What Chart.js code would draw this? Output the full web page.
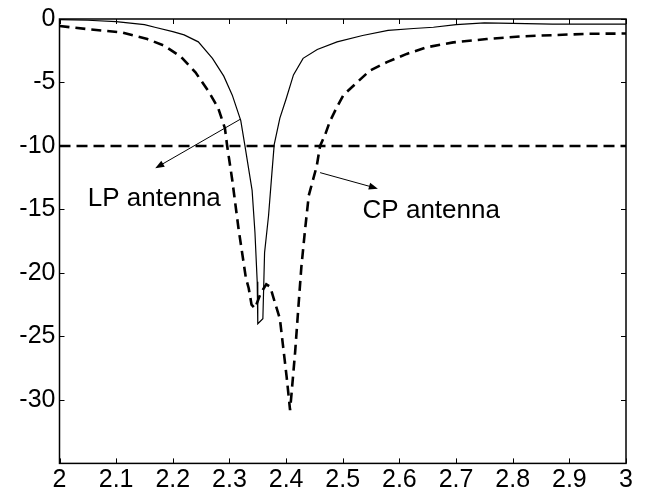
<!DOCTYPE html>
<html>
<head>
<meta charset="utf-8">
<script src="https://cdn.jsdelivr.net/npm/chart.js@4/dist/chart.umd.min.js"></script>
<style>
  html, body { margin: 0; padding: 0; background: #fff; }
  #wrap { width: 651px; height: 492px; }
</style>
</head>
<body>
<div id="wrap"><canvas id="chart"></canvas></div>
<script>
// frequency (GHz) and return loss (dB) of the linearly polarised antenna
const lpFreq = [2.00, 2.05, 2.10, 2.15, 2.17, 2.20, 2.22, 2.245, 2.27, 2.29, 2.305, 2.32, 2.327,
  2.34, 2.345, 2.349, 2.350, 2.359, 2.362, 2.369, 2.375, 2.379, 2.389, 2.40, 2.413, 2.43,
  2.455, 2.49, 2.535, 2.58, 2.625, 2.66, 2.70, 2.75, 2.80, 2.87, 2.93, 3.00];
const lpS11 = [-0.05, -0.1, -0.2, -0.45, -0.67, -1.0, -1.25, -1.8, -3.1, -4.5, -6.0, -8.0, -9.9,
  -13.5, -16.8, -20.7, -24.0, -23.6, -18.4, -15.5, -12.1, -9.9, -7.8, -6.3, -4.4, -3.1,
  -2.4, -1.8, -1.3, -0.9, -0.75, -0.65, -0.45, -0.3, -0.35, -0.4, -0.4, -0.4];

// same for the circularly polarised antenna
const cpFreq = [2.00, 2.05, 2.11, 2.155, 2.185, 2.215, 2.24, 2.263, 2.28, 2.292, 2.296, 2.305,
  2.316, 2.329, 2.334, 2.339, 2.345, 2.355, 2.365, 2.372, 2.38, 2.389, 2.395, 2.401, 2.407,
  2.41, 2.416, 2.422, 2.427, 2.433, 2.44, 2.454, 2.46, 2.469, 2.477, 2.489, 2.501, 2.525,
  2.548, 2.578, 2.613, 2.648, 2.695, 2.754, 2.813, 2.871, 2.93, 3.00];
const cpS11 = [-0.55, -0.8, -1.06, -1.58, -2.1, -3.0, -4.2, -5.7, -7.0, -8.6, -10.0, -12.7,
  -16.5, -20.4, -21.2, -22.5, -22.8, -21.6, -20.9, -21.1, -22.3, -23.6, -25.9, -28.2, -30.8,
  -29.3, -26.2, -22.5, -19.5, -16.8, -13.9, -11.6, -10.0, -9.1, -8.1, -7.0, -6.0, -5.0,
  -4.06, -3.4, -2.75, -2.23, -1.84, -1.58, -1.37, -1.27, -1.17, -1.14];

// -10 dB reference level
const refFreq = [2, 3];
const refS11 = [-10, -10];

const xTickLabels = ["2", "2.1", "2.2", "2.3", "2.4", "2.5", "2.6", "2.7", "2.8", "2.9", "3"];
const yTickLabels = ["0", "-5", "-10", "-15", "-20", "-25", "-30"];

function toPoints(xs, ys) {
  return xs.map((v, i) => ({ x: v, y: ys[i] }));
}

const FONT = "Liberation Sans, Arial, sans-serif";

function drawArrow(ctx, x0, y0, x1, y1) {
  const ang = Math.atan2(y1 - y0, x1 - x0);
  const len = 9, half = 3.5;
  ctx.beginPath();
  ctx.moveTo(x0, y0);
  ctx.lineTo(x1 - Math.cos(ang) * len * 0.8, y1 - Math.sin(ang) * len * 0.8);
  ctx.stroke();
  ctx.beginPath();
  ctx.moveTo(x1, y1);
  ctx.lineTo(x1 - Math.cos(ang) * len - Math.sin(ang) * half, y1 - Math.sin(ang) * len + Math.cos(ang) * half);
  ctx.lineTo(x1 - Math.cos(ang) * len + Math.sin(ang) * half, y1 - Math.sin(ang) * len - Math.cos(ang) * half);
  ctx.closePath();
  ctx.fill();
}

// box, inward ticks on all four sides, and the two labelled arrows
const framePlugin = {
  id: "frame",
  afterDraw(chart) {
    const { ctx, chartArea: a, scales: { x, y } } = chart;
    ctx.save();
    ctx.strokeStyle = "#000";
    ctx.fillStyle = "#000";
    ctx.lineWidth = 1.5;
    ctx.strokeRect(a.left, a.top, a.right - a.left, a.bottom - a.top);

    ctx.lineWidth = 1;
    ctx.beginPath();
    x.ticks.forEach(t => {
      const px = Math.round(x.getPixelForValue(t.value)) + 0.5;
      ctx.moveTo(px, a.bottom); ctx.lineTo(px, a.bottom - 5);
      ctx.moveTo(px, a.top); ctx.lineTo(px, a.top + 5);
    });
    y.ticks.forEach(t => {
      const py = Math.round(y.getPixelForValue(t.value)) + 0.5;
      ctx.moveTo(a.left, py); ctx.lineTo(a.left + 5, py);
      ctx.moveTo(a.right, py); ctx.lineTo(a.right - 5, py);
    });
    ctx.stroke();

    // LP antenna
    drawArrow(ctx, x.getPixelForValue(2.319), y.getPixelForValue(-7.9),
      x.getPixelForValue(2.169), y.getPixelForValue(-11.75));
    // CP antenna
    drawArrow(ctx, x.getPixelForValue(2.46), y.getPixelForValue(-12.1),
      x.getPixelForValue(2.562), y.getPixelForValue(-13.36));

    ctx.font = "26px " + FONT;
    ctx.textAlign = "left";
    ctx.textBaseline = "middle";
    ctx.fillText("LP antenna", x.getPixelForValue(2.05), y.getPixelForValue(-14.2));
    ctx.fillText("CP antenna", x.getPixelForValue(2.535), y.getPixelForValue(-15.1));
    ctx.restore();
  }
};

const ctx = document.getElementById("chart").getContext("2d");
new Chart(ctx, {
  type: "line",
  data: {
    datasets: [
      {
        label: "LP antenna",
        data: toPoints(lpFreq, lpS11),
        borderColor: "#000",
        borderWidth: 1.2,
      },
      {
        label: "CP antenna",
        data: toPoints(cpFreq, cpS11),
        borderColor: "#000",
        borderWidth: 2.6,
        borderDash: [10, 6],
      },
      {
        label: "-10 dB",
        data: toPoints(refFreq, refS11),
        borderColor: "#000",
        borderWidth: 2.6,
        borderDash: [11, 6],
      },
    ],
  },
  options: {
    responsive: true,
    maintainAspectRatio: false,
    animation: false,
    elements: { point: { radius: 0 }, line: { tension: 0 } },
    layout: { padding: { left: 0, top: 14.7, right: 25, bottom: 0 } },
    plugins: { legend: { display: false }, tooltip: { enabled: false } },
    scales: {
      x: {
        type: "linear",
        min: 2,
        max: 3,
        grid: { display: false, drawTicks: false },
        border: { display: false },
        ticks: {
          stepSize: 0.1,
          maxRotation: 0,
          autoSkip: false,
          padding: 2,
          color: "#000",
          font: { family: FONT, size: 25 },
          callback: (v, i) => xTickLabels[i],
        },
        afterFit: (scale) => { scale.height = 28.6; },
      },
      y: {
        min: -35,
        max: 0,
        grid: { display: false, drawTicks: false },
        border: { display: false },
        ticks: {
          stepSize: 5,
          padding: 4,
          color: "#000",
          font: { family: FONT, size: 25 },
          callback: (v) => (yTickLabels.includes(String(v)) ? String(v) : ""),
        },
        afterFit: (scale) => { scale.width = 59.5; },
      },
    },
  },
  plugins: [framePlugin],
});
</script>
</body>
</html>
